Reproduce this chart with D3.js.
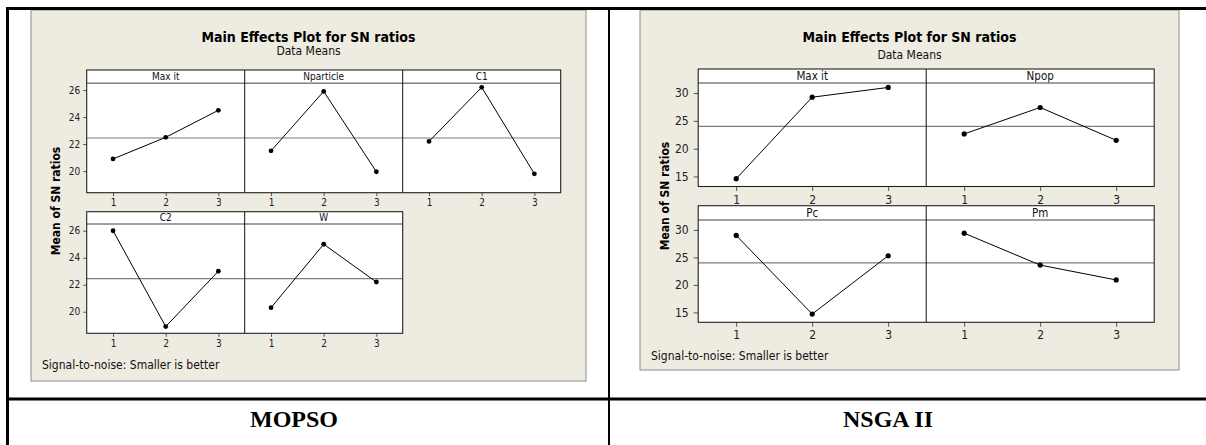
<!DOCTYPE html>
<html>
<head>
<meta charset="utf-8">
<script src="https://cdn.jsdelivr.net/npm/d3@7"></script>
<style>
  html, body { margin: 0; padding: 0; background: #fff; }
  svg { display: block; }
</style>
</head>
<body>
<svg id="fig" width="1206" height="445"></svg>
<script>
// ---- data -------------------------------------------------------------
const levels = [1, 2, 3];

// MOPSO: mean of SN ratios at each factor level
const mopsoFactors = ["Max it", "Nparticle", "C1", "C2", "W"];
const mopsoMaxIt = [20.9, 22.5, 24.5];
const mopsoNparticle = [21.5, 25.9, 19.95];
const mopsoC1 = [22.2, 26.2, 19.8];
const mopsoC2 = [26.0, 18.9, 23.0];
const mopsoW = [20.3, 25.0, 22.2];
const mopsoGrandMean = 22.45;
const mopsoYTicks = [20, 22, 24, 26];

// NSGA II: mean of SN ratios at each factor level
const nsgaFactors = ["Max it", "Npop", "Pc", "Pm"];
const nsgaMaxIt = [14.6, 29.25, 31.0];
const nsgaNpop = [22.65, 27.4, 21.5];
const nsgaPc = [29.0, 14.7, 25.3];
const nsgaPm = [29.4, 23.6, 20.9];
const nsgaGrandMean = 24.0;
const nsgaYTicks = [15, 20, 25, 30];

const titleText = "Main Effects Plot for SN ratios";
const subtitleText = "Data Means";
const yLabelText = "Mean of SN ratios";
const noteText = "Signal-to-noise: Smaller is better";
const captions = ["MOPSO", "NSGA II"];

// ---- drawing ----------------------------------------------------------
const SANS = "'DejaVu Sans Condensed', 'DejaVu Sans', sans-serif";
const SERIF = "'Liberation Serif', 'Times New Roman', serif";
const svg = d3.select("#fig");

function mainEffects(cfg, factors, series, grandMean, yTicks) {
  const g = svg.append("g");

  g.append("rect")
    .attr("x", cfg.panel.x).attr("y", cfg.panel.y)
    .attr("width", cfg.panel.w).attr("height", cfg.panel.h)
    .attr("fill", "#EEEBE1").attr("stroke", "#8c8c8c").attr("stroke-width", 1);

  const cx = cfg.panel.x + cfg.panel.w / 2;
  g.append("text").attr("x", cx).attr("y", cfg.titleY)
    .attr("text-anchor", "middle").attr("font-family", SANS)
    .attr("font-weight", "bold").attr("font-size", cfg.titleSize)
    .attr("fill", "#000").text(titleText);
  g.append("text").attr("x", cx).attr("y", cfg.subtitleY)
    .attr("text-anchor", "middle").attr("font-family", SANS)
    .attr("font-size", cfg.subtitleSize).attr("fill", "#111").text(subtitleText);

  g.append("text")
    .attr("transform", `translate(${cfg.yLabelX},${cfg.yLabelY}) rotate(-90)`)
    .attr("text-anchor", "middle").attr("font-family", SANS)
    .attr("font-weight", "bold").attr("font-size", cfg.yLabelSize)
    .attr("fill", "#000").text(yLabelText);

  g.append("text").attr("x", cfg.noteX).attr("y", cfg.noteY)
    .attr("font-family", SANS).attr("font-size", cfg.noteSize)
    .attr("fill", "#111").text(noteText);

  const yScales = cfg.rows.map(r =>
    d3.scaleLinear().domain(cfg.yDomain).range([r.bottom, r.stripBottom]));

  factors.forEach((name, i) => {
    const ri = Math.floor(i / cfg.cols), ci = i % cfg.cols;
    const r = cfg.rows[ri];
    const x0 = cfg.x0 + ci * cfg.cellW;
    const x = d3.scaleLinear().domain([0.5, 3.5]).range([x0, x0 + cfg.cellW]);
    const y = yScales[ri];
    const cell = g.append("g");

    cell.append("rect").attr("x", x0).attr("y", r.top)
      .attr("width", cfg.cellW).attr("height", r.bottom - r.top).attr("fill", "#fff");

    cell.append("text").attr("x", x0 + cfg.cellW / 2)
      .attr("y", (r.top + r.stripBottom) / 2).attr("dy", "0.36em")
      .attr("text-anchor", "middle").attr("font-family", SANS)
      .attr("font-size", cfg.stripSize).attr("fill", "#111").text(name);

    // overall mean reference line
    cell.append("line")
      .attr("x1", x0).attr("x2", x0 + cfg.cellW)
      .attr("y1", y(grandMean)).attr("y2", y(grandMean))
      .attr("stroke", "#7d7d7d").attr("stroke-width", 1.2);

    const vals = series[i];
    cell.append("path").datum(vals)
      .attr("d", d3.line().x((d, j) => x(levels[j])).y(d => y(d)))
      .attr("fill", "none").attr("stroke", "#000").attr("stroke-width", 1);
    cell.selectAll("circle").data(vals).join("circle")
      .attr("cx", (d, j) => x(levels[j])).attr("cy", d => y(d))
      .attr("r", cfg.dotR).attr("fill", "#000");

    const ax = cell.append("g").attr("transform", `translate(0,${r.bottom})`)
      .call(d3.axisBottom(x).tickValues(levels).tickFormat(d3.format("d"))
        .tickSize(cfg.tickLen).tickSizeOuter(0).tickPadding(cfg.xPad));
    ax.select(".domain").remove();
    ax.selectAll("line").attr("stroke", "#555");
    ax.selectAll("text").attr("font-family", SANS).attr("font-size", cfg.tickSize).attr("fill", "#222");

    if (ci === 0) {
      const ay = cell.append("g").attr("transform", `translate(${x0},0)`)
        .call(d3.axisLeft(y).tickValues(yTicks).tickFormat(d3.format("d"))
          .tickSize(cfg.tickLen).tickSizeOuter(0).tickPadding(cfg.yPad));
      ay.select(".domain").remove();
      ay.selectAll("line").attr("stroke", "#555");
      ay.selectAll("text").attr("font-family", SANS).attr("font-size", cfg.tickSize).attr("fill", "#222");
    }
  });

  // panel frames, strip rules and dividers on top
  cfg.rows.forEach((r, ri) => {
    const n = Math.min(cfg.cols, factors.length - ri * cfg.cols);
    const w = n * cfg.cellW;
    const f = g.append("g");
    f.append("line").attr("x1", cfg.x0).attr("x2", cfg.x0 + w)
      .attr("y1", r.stripBottom).attr("y2", r.stripBottom)
      .attr("stroke", "#808080").attr("stroke-width", 1.5);
    for (let k = 1; k < n; k++) {
      f.append("line").attr("x1", cfg.x0 + k * cfg.cellW).attr("x2", cfg.x0 + k * cfg.cellW)
        .attr("y1", r.top).attr("y2", r.bottom).attr("stroke", "#111").attr("stroke-width", 1);
    }
    f.append("rect").attr("x", cfg.x0).attr("y", r.top)
      .attr("width", w).attr("height", r.bottom - r.top)
      .attr("fill", "none").attr("stroke", "#222").attr("stroke-width", 1.1);
  });
}

mainEffects({
  panel: { x: 31, y: 10, w: 555, h: 371 },
  titleY: 42, titleSize: 14, subtitleY: 55, subtitleSize: 12,
  yLabelX: 60, yLabelY: 201, yLabelSize: 12,
  noteX: 42, noteY: 369, noteSize: 12,
  x0: 86.7, cellW: 158, cols: 3,
  rows: [
    { top: 70, stripBottom: 83.3, bottom: 192.7 },
    { top: 211.7, stripBottom: 224, bottom: 333.3 }
  ],
  yDomain: [18.4, 26.5],
  stripSize: 10, tickSize: 10, tickLen: 3.5, xPad: 3, yPad: 3, dotR: 2.4
}, mopsoFactors, [mopsoMaxIt, mopsoNparticle, mopsoC1, mopsoC2, mopsoW], mopsoGrandMean, mopsoYTicks);

mainEffects({
  panel: { x: 640, y: 10, w: 539, h: 360 },
  titleY: 41.5, titleSize: 14, subtitleY: 59, subtitleSize: 12,
  yLabelX: 669, yLabelY: 196, yLabelSize: 12,
  noteX: 651, noteY: 359.5, noteSize: 12,
  x0: 698.2, cellW: 228, cols: 2,
  rows: [
    { top: 69, stripBottom: 83, bottom: 186.5 },
    { top: 205.7, stripBottom: 220, bottom: 322.3 }
  ],
  yDomain: [13.2, 31.8],
  stripSize: 11.5, tickSize: 12, tickLen: 4.5, xPad: 4, yPad: 5, dotR: 2.6
}, nsgaFactors, [nsgaMaxIt, nsgaNpop, nsgaPc, nsgaPm], nsgaGrandMean, nsgaYTicks);

// ---- surrounding table ------------------------------------------------
const rules = svg.append("g").attr("stroke", "#000");
rules.append("line").attr("x1", 6).attr("x2", 1206).attr("y1", 8.5).attr("y2", 8.5).attr("stroke-width", 3);
rules.append("line").attr("x1", 7.5).attr("x2", 7.5).attr("y1", 7).attr("y2", 445).attr("stroke-width", 3);
rules.append("line").attr("x1", 609).attr("x2", 609).attr("y1", 7).attr("y2", 445).attr("stroke-width", 2);
rules.append("line").attr("x1", 6).attr("x2", 1206).attr("y1", 399).attr("y2", 399).attr("stroke-width", 3);

svg.selectAll("text.caption").data(captions).join("text")
  .attr("class", "caption")
  .attr("x", (d, i) => [294, 888][i]).attr("y", 427)
  .attr("text-anchor", "middle").attr("font-family", SERIF)
  .attr("font-weight", "bold").attr("font-size", 24).attr("fill", "#000")
  .text(d => d);
</script>
</body>
</html>
